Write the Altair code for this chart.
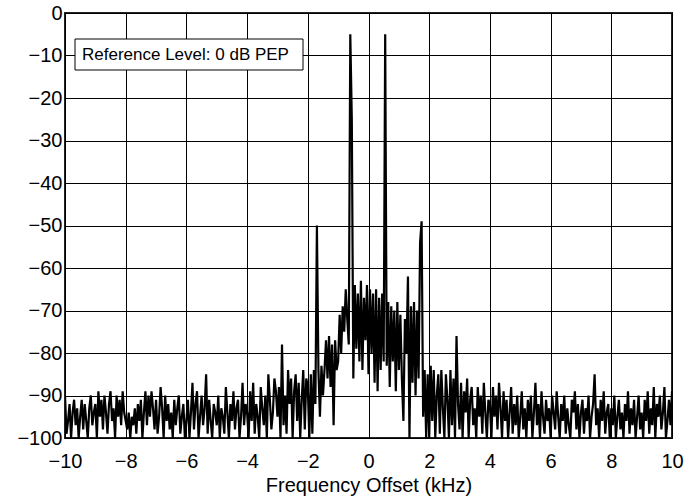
import altair as alt
import pandas as pd

# ---- data ----
# Each row covers one kHz, 20 samples at 0.05 kHz spacing, starting at row_start_khz
row_start_khz = [-10, -9, -8, -7, -6, -5, -4, -3, -2, -1, 0, 1, 2, 3, 4, 5, 6, 7, 8, 9]
step_khz = 0.05
rows_db = [
    [-90, -99, -96, -92, -100, -94, -91, -97, -93, -100, -95, -91, -98, -92, -96, -100, -93, -90, -97, -94],
    [-92, -100, -89, -95, -91, -98, -90, -94, -99, -92, -89, -96, -93, -100, -90, -95, -91, -97, -89, -94],
    [-96, -98, -94, -100, -95, -97, -93, -99, -92, -96, -91, -100, -94, -89, -97, -90, -95, -89, -93, -98],
    [-91, -99, -95, -88, -93, -100, -90, -96, -92, -98, -94, -100, -91, -97, -93, -90, -99, -95, -92, -100],
    [-96, -91, -100, -94, -87, -98, -92, -89, -100, -95, -90, -97, -93, -85, -99, -91, -96, -100, -92, -94],
    [-97, -90, -100, -93, -95, -99, -88, -94, -100, -92, -96, -89, -98, -93, -91, -100, -95, -87, -97, -92],
    [-94, -100, -89, -96, -87, -99, -92, -95, -100, -88, -93, -97, -90, -100, -85, -91, -98, -94, -86, -89],
    [-95, -88, -100, -78, -97, -90, -99, -84, -92, -86, -100, -89, -85, -96, -87, -100, -91, -84, -98, -86],
    [-88, -100, -85, -99, -84, -92, -50, -84, -95, -83, -90, -84, -77, -86, -76, -88, -78, -97, -77, -84],
    [-82, -71, -80, -69, -75, -65, -72, -78, -5, -25, -86, -64, -79, -66, -82, -63, -84, -67, -77, -64],
    [-85, -65, -80, -66, -87, -65, -89, -67, -84, -66, -82, -5, -83, -68, -88, -69, -82, -70, -89, -68],
    [-84, -71, -86, -96, -72, -80, -62, -100, -69, -87, -68, -90, -70, -86, -54, -49, -95, -84, -100, -85],
    [-100, -83, -96, -84, -100, -90, -85, -99, -84, -93, -100, -85, -91, -100, -84, -97, -86, -100, -76, -92],
    [-98, -87, -100, -89, -94, -86, -100, -91, -88, -97, -93, -100, -88, -95, -90, -99, -87, -94, -100, -91],
    [-92, -100, -88, -95, -90, -98, -87, -93, -100, -89, -96, -91, -100, -94, -88, -99, -92, -97, -90, -100],
    [-95, -89, -98, -93, -100, -91, -96, -90, -100, -94, -87, -97, -92, -100, -89, -95, -99, -91, -96, -93],
    [-100, -90, -94, -98, -89, -95, -100, -92, -96, -90, -99, -93, -97, -100, -91, -94, -89, -98, -92, -100],
    [-94, -91, -99, -93, -96, -90, -100, -95, -92, -85, -97, -93, -100, -91, -96, -89, -99, -94, -92, -100],
    [-93, -97, -90, -100, -95, -91, -98, -94, -100, -92, -96, -89, -99, -93, -97, -91, -100, -95, -90, -98],
    [-94, -100, -91, -96, -89, -99, -93, -97, -88, -100, -92, -95, -90, -98, -94, -88, -100, -96, -91, -97],
]
end_khz = 10.0
end_db = -89

x_ticks = [-10, -8, -6, -4, -2, 0, 2, 4, 6, 8, 10]
y_ticks = [-100, -90, -80, -70, -60, -50, -40, -30, -20, -10, 0]
x_title = "Frequency Offset (kHz)"
note_text = "Reference Level: 0 dB PEP"

freq, level = [], []
for start, vals in zip(row_start_khz, rows_db):
    for i, v in enumerate(vals):
        freq.append(round(start + i * step_khz, 3))
        level.append(v)
freq.append(end_khz)
level.append(end_db)
df = pd.DataFrame({"freq": freq, "level": level})

FONT = "Liberation Sans"

line = alt.Chart(df).mark_line(color="black", strokeWidth=2.2, clip=True,
                               strokeJoin="miter", strokeMiterLimit=2).encode(
    x=alt.X("freq:Q",
            scale=alt.Scale(domain=[-10, 10], nice=False, zero=False),
            axis=alt.Axis(values=x_ticks, title=x_title, grid=True, gridColor="black",
                          gridOpacity=1, gridWidth=1, ticks=False, domain=False,
                          labelFontSize=20, labelFont=FONT, labelColor="black",
                          labelPadding=13, labelFlush=False,
                          titleFontSize=20, titleFont=FONT, titleFontWeight="normal",
                          titleColor="black", titlePadding=4)),
    y=alt.Y("level:Q",
            scale=alt.Scale(domain=[-100, 0], nice=False, zero=False),
            axis=alt.Axis(values=y_ticks, title=None, grid=True, gridColor="black",
                          gridOpacity=1, gridWidth=1, ticks=False, domain=False,
                          labelFontSize=20, labelFont=FONT, labelColor="black",
                          labelPadding=3, labelFlush=False)),
)

note_df = pd.DataFrame({"t": [note_text]})
box = alt.Chart(note_df).mark_rect(fill="white", stroke="black", strokeWidth=1).encode(
    x=alt.value(10), x2=alt.value(238), y=alt.value(26), y2=alt.value(57)
)
note = alt.Chart(note_df).mark_text(align="left", baseline="middle", fontSize=17,
                                    font=FONT, color="black").encode(
    x=alt.value(17), y=alt.value(42), text="t:N"
)

chart = alt.layer(line, box, note).properties(
    width=607, height=425,
    padding={"left": 65, "top": 13, "right": 27, "bottom": 63},
    autosize=alt.AutoSizeParams(type="none"),
    background="white",
).configure_view(stroke="#222222", strokeWidth=2)

chart.save("out.html", embed_options={"renderer": "svg", "actions": False})
